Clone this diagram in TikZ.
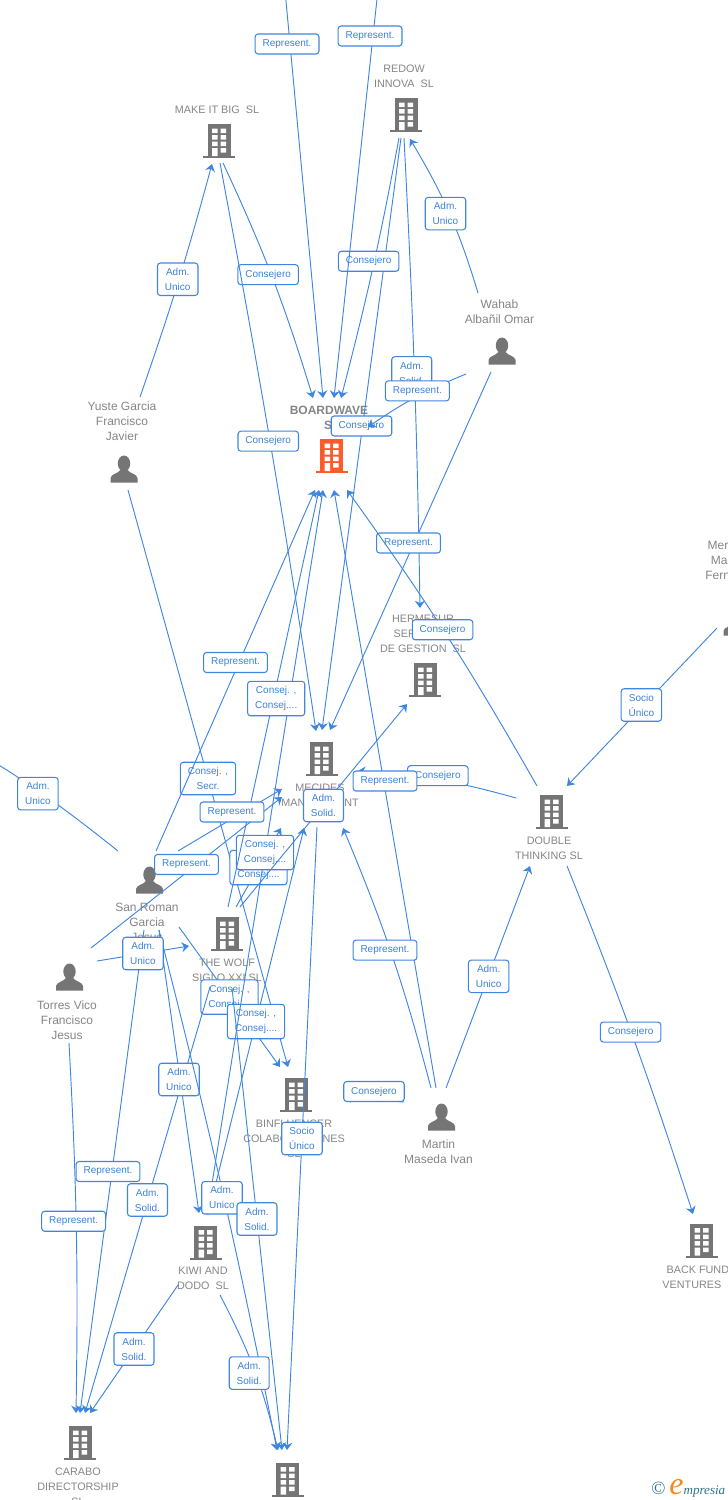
\documentclass[tikz,border=0pt]{standalone}
\usepackage{fontspec}
\setmainfont{Liberation Sans}
\newfontfamily\logofont{Liberation Serif}
\usetikzlibrary{arrows.meta}
\definecolor{linkblue}{HTML}{3F86E0}
\definecolor{tagblue}{HTML}{3B82DC}
\definecolor{namegray}{HTML}{858585}
\definecolor{icongray}{HTML}{757575}
\definecolor{mainorange}{HTML}{FF5A2B}
\definecolor{logoteal}{HTML}{2F7488}
\definecolor{logoorange}{HTML}{F58A1F}
\tikzset{
    myentity/.style={inner sep=0pt, minimum size=0pt},
    myname/.style={text=namegray, font=\fontsize{8.1}{11.25}\selectfont, align=center, inner sep=0pt},
    mymain/.style={text=namegray, font=\fontsize{9}{11.25}\selectfont\bfseries, align=center, inner sep=0pt},
    myperson/.style={text=namegray, font=\fontsize{9}{11.25}\selectfont, align=center, inner sep=0pt},
    mylink/.style={-{Stealth[length=5.5pt,width=7.5pt,inset=1.8pt]}, draw=linkblue, line width=.7pt},
    mytag/.style={rectangle, rounded corners=2.2pt, draw=linkblue, line width=.8pt, fill=white, text=tagblue,
        font=\fontsize{7.5}{11.25}\selectfont, align=center, inner xsep=5.6pt, inner ysep=3.8pt, minimum height=15pt},
    pics/building/.style={code={
        \fill[#1] (-11.5,-17) rectangle (11.5,15);
        \fill[#1] (-16,15) rectangle (16,17);
        \fill[white] (-7,-12.5) rectangle (-1.5,-8) (1.5,-12.5) rectangle (7,-8);
        \fill[white] (-7,-6) rectangle (-1.5,-1.5) (1.5,-6) rectangle (7,-1.5);
        \fill[white] (-7,0.5) rectangle (-1.5,5) (1.5,0.5) rectangle (7,5);
        \fill[white] (-7,7) rectangle (-1.5,15) (1.5,7) rectangle (7,11.5);
    }},
    pics/person/.style={code={
        \fill[#1] (0,-5.5) ellipse (6.2 and 8);
        \fill[#1] (-13.5,13.5) -- (-13.5,9) .. controls (-13,5) and (-6,4.5) .. (-3.5,1) -- (3.5,1)
            .. controls (6,4.5) and (13,5) .. (13.5,9) -- (13.5,13.5) -- cycle;
    }}
}
\begin{document}
\begin{tikzpicture}[x=.75pt,y=-.75pt]
    \useasboundingbox (0,0) rectangle (728,1500);
    \clip (0,0) rectangle (728,1500);
    % companies
    \path (219,141) node[myentity] (makeit) {} pic {building=icongray};
    \path (406,115) node[myentity] (redow) {} pic {building=icongray};
    \path (331.5,456) node[myentity] (board) {} pic {building=mainorange};
    \path (425,680) node[myentity] (hermesur) {} pic {building=icongray};
    \path (321.5,759) node[myentity] (mecides) {} pic {building=icongray};
    \path (551.5,812) node[myentity] (double) {} pic {building=icongray};
    \path (227,934) node[myentity] (wolf) {} pic {building=icongray};
    \path (296,1095) node[myentity] (binf) {} pic {building=icongray};
    \path (205.5,1242.5) node[myentity] (kiwi) {} pic {building=icongray};
    \path (80,1443) node[myentity] (carabo) {} pic {building=icongray};
    \path (287.5,1479.5) node[myentity] (bottom) {} pic {building=icongray};
    \path (701.5,1240.5) node[myentity] (back) {} pic {building=icongray};
    % people
    \path (124,469) node[myentity] (yuste) {} pic {person=icongray};
    \path (502,351) node[myentity] (wahab) {} pic {person=icongray};
    \path (149.5,880) node[myentity] (sanroman) {} pic {person=icongray};
    \path (69.5,977) node[myentity] (torres) {} pic {person=icongray};
    \path (441.5,1117) node[myentity] (martin) {} pic {person=icongray};
    \path (737,622) node[myentity] (mer) {} pic {person=icongray};
    % names
    \node[myname] (makeitname) at (217,110) {MAKE IT BIG~~SL};
    \node[myname] (redowname) at (404,76.5) {REDOW\\INNOVA~~SL};
    \node[mymain] (boardname) at (329,417.5) {BOARDWAVE\\\hspace*{4pt}SL};
    \node[myname] (hermesurname) at (423,634) {HERMESUR\\SERVICIOS\\DE GESTION~~SL};
    \node[myname] (mecidesname) at (320,803) {MECIDES\\MANAGEMENT\\SL};
    \node[myname] (doublename) at (549,848.5) {DOUBLE\\THINKING SL};
    \node[myname] (wolfname) at (227,970.5) {THE WOLF\\SIGLO XXI SL};
    \node[myname] (binfname) at (294,1139) {BINFLUENCER\\COLABORACIONES\\SL};
    \node[myname] (kiwiname) at (203,1278.5) {KIWI AND\\DODO~~SL};
    \node[myname] (caraboname) at (78,1487) {CARABO\\DIRECTORSHIP\\SL};
    \node[myname] (backname) at (701.5,1277.5) {BACK FUNDS\\VENTURES~~SL};
    \node[myperson] (yustename) at (122,421) {Yuste Garcia\\Francisco\\Javier};
    \node[myperson] (wahabname) at (499.5,311.5) {Wahab\\Albañil Omar};
    \node[myperson] (sanromanname) at (147,922) {San Roman\\Garcia\\Jesus};
    \node[myperson] (torresname) at (67,1020) {Torres Vico\\Francisco\\Jesus};
    \node[myperson] (martinname) at (438.5,1151.5) {Martin\\Maseda Ivan};
    \node[myperson] (mername) at (734,560) {Mercedes\\Martinez\\Fernandez};
    \node[anchor=base west, inner sep=0pt, font=\logofont\itshape\fontsize{9.8}{10}\selectfont, text=logoteal] (logo) at (651,1494)
        {\textup{\fontsize{14}{14}\selectfont ©}\hspace{3pt}{\color{logoorange}\fontsize{24}{24}\selectfont e}mpresia};
    % off the page
    \coordinate (offa) at (257,-310);
    \coordinate (offb) at (412,-326);
    \coordinate (offc) at (-44,739);
    % links
    \path ([shift={(16,-72)}]yuste.center) edge [mylink, bend right=2] node [mytag, xshift=-.5pt, yshift=1.5pt] {Adm.\\Unico} ([shift={(-7,23)}]makeit.center)
          ([shift={(-24,-58)}]wahab.center) edge [mylink, bend right=7] node [mytag, xshift=-3pt] {Adm.\\Unico} ([shift={(4,24)}]redow.center)
          ([shift={(4,22)}]makeit.center) edge [mylink, bend left=4] node [mytag, xshift=-3.5pt, yshift=3pt] {Consejero} ([shift={(-18.5,-58)}]board.center)
          ([shift={(1,22)}]makeit.center) edge [mylink, bend left=1] node [mytag, xshift=-2pt, yshift=4pt] {Consejero} ([shift={(-5.5,-28)}]mecides.center)
          ([shift={(-5,23)}]redow.center) edge [mylink] node [mytag, yshift=6pt] {Consejero} ([shift={(.5,-29)}]mecides.center)
          ([shift={(-7,23)}]redow.center) edge [mylink, bend left=2] node [mytag, xshift=-3pt, yshift=5.5pt] {Consejero} ([shift={(9.5,-58)}]board.center)
          (offa) edge [mylink] node [mytag, xshift=-2.2pt] {Represent.} ([shift={(-8.5,-58)}]board.center)
          (offb) edge [mylink] node [mytag, xshift=-2.2pt] {Represent.} ([shift={(2.5,-58)}]board.center)
          ([shift={(-2,23)}]redow.center) edge [mylink, bend left=1] node [mytag, xshift=-2pt] {Adm.\\Solid.} ([shift={(-5,-72)}]hermesur.center)
          ([shift={(-36,23)}]wahab.center) edge [mylink, bend right=6] node [mytag, xshift=1.5pt, yshift=5pt] {Represent.} ([shift={(36.5,-29)}]board.center)
          ([shift={(-11,21)}]wahab.center) edge [mylink] node [mytag, xshift=-1.5pt, yshift=6pt] {Represent.} ([shift={(8.5,-29)}]mecides.center)
          ([shift={(-14.5,-26)}]double.center) edge [mylink, bend right=3] node [mytag, xshift=-3pt, yshift=4pt] {Consejero} ([shift={(15.5,34)}]board.center)
          ([shift={(-35.5,-14)}]double.center) edge [mylink, bend right=6] node [mytag, yshift=3pt] {Consejero} ([shift={(36.5,12)}]mecides.center)
          ([shift={(-5.5,-29)}]martin.center) edge [mylink] node [mytag, yshift=6pt] {Represent.} ([shift={(2.5,34)}]board.center)
          ([shift={(-10.5,-29)}]martin.center) edge [mylink, bend right=4] node [mytag, xshift=-5.5pt, yshift=4.5pt] {Represent.} ([shift={(21.5,69)}]mecides.center)
          ([shift={(4.5,-29)}]martin.center) edge [mylink] node [mytag, xshift=.5pt, yshift=.5pt] {Adm.\\Unico} ([shift={(-21.5,54)}]double.center)
          ([shift={(15.5,54)}]double.center) edge [mylink, bend left=2] node [mytag, xshift=-2.2pt, yshift=5pt] {Consejero} ([shift={(-8.5,-26.5)}]back.center)
          ([shift={(-20,6)}]mer.center) edge [mylink] node [mytag, xshift=-.5pt, yshift=1.5pt] {Socio\\Único} ([shift={(15.5,-26)}]double.center)
          ([shift={(-31.5,-29)}]sanroman.center) edge [mylink, bend right=4] node [mytag, xshift=-1pt, yshift=-1.5pt] {Adm.\\Unico} (offc)
          ([shift={(29.5,47)}]sanroman.center) edge [mylink] node [mytag] {Consej. ,\\Consej....} ([shift={(-16,-28)}]binf.center)
          ([shift={(4,21)}]yuste.center) edge [mylink] node [mytag] {Consej. ,\\Secr.} ([shift={(-8,-28)}]binf.center)
          ([shift={(2.5,-27.5)}]kiwi.center) edge [mylink] node [mytag] {Consej. ,\\Consej....} ([shift={(-17.5,69)}]mecides.center)
          ([shift={(-17,53)}]wolf.center) edge [mylink] node [mytag] {Adm.\\Solid.} ([shift={(5,-30)}]carabo.center)
          ([shift={(9,-27)}]wolf.center) edge [mylink] node [mytag] {Consej. ,\\Consej....} ([shift={(-40.5,69)}]mecides.center)
          ([shift={(1.5,-27.5)}]kiwi.center) edge [mylink] node [mytag] {Consej. ,\\Consej....} ([shift={(-8.5,34)}]board.center)
          ([shift={(1,-27)}]wolf.center) edge [mylink] node [mytag, xshift=2pt] {Consej. ,\\Consej....} ([shift={(-12.5,34)}]board.center)
          ([shift={(21.5,-29)}]torres.center) edge [mylink] node [mytag, yshift=6pt] {Represent.} ([shift={(-39.5,38)}]mecides.center)
          ([shift={(28.5,-29)}]sanroman.center) edge [mylink] node [mytag, xshift=1.5pt, yshift=6pt] {Represent.} ([shift={(-39.5,30)}]mecides.center)
          ([shift={(6.5,-29)}]sanroman.center) edge [mylink] node [mytag, yshift=6pt] {Represent.} ([shift={(-16.5,34)}]board.center)
          ([shift={(13,-27)}]wolf.center) edge [mylink] node [mytag] {Adm.\\Solid.} ([shift={(-18,24)}]hermesur.center)
          ([shift={(9.5,50)}]sanroman.center) edge [mylink] node [mytag, yshift=-6pt] {Adm.\\Unico} ([shift={(-6.5,-29.5)}]kiwi.center)
          ([shift={(9.5,50)}]sanroman.center) edge [mylink, bend left=1.5] node [mytag, yshift=-6.5pt] {Adm.\\Unico} ([shift={(-10.5,-29.5)}]bottom.center)
          ([shift={(5,54)}]wolf.center) edge [mylink] node [mytag] {Adm.\\Solid.} ([shift={(-5.5,-29.5)}]bottom.center)
          ([shift={(14.5,52.5)}]kiwi.center) edge [mylink, bend left=7] node [mytag, xshift=-4pt, yshift=-2pt] {Adm.\\Solid.} ([shift={(-9.5,-29.5)}]bottom.center)
          ([shift={(-27.5,42.5)}]kiwi.center) edge [mylink] node [mytag] {Adm.\\Solid.} ([shift={(10,-30)}]carabo.center)
          ([shift={(-5.5,50)}]sanroman.center) edge [mylink] node [mytag, xshift=-3pt] {Represent.} ([shift={(0,-30)}]carabo.center)
          ([shift={(-.5,66)}]torres.center) edge [mylink, bend left=2] node [mytag, xshift=-2pt, yshift=5pt] {Represent.} ([shift={(-4,-30)}]carabo.center)
          ([shift={(27.5,-16)}]torres.center) edge [mylink] node [mytag] {Adm.\\Unico} ([shift={(-38,12)}]wolf.center)
          ([shift={(-4.5,68)}]mecides.center) edge [mylink] node [mytag] {Socio\\Único} ([shift={(-.5,-29.5)}]bottom.center)
          ([shift={(-37.5,-15)}]martin.center) edge [mylink] node [mytag, yshift=6pt] {Consejero} ([shift={(48,2)}]binf.center);
\end{tikzpicture}
\end{document}
